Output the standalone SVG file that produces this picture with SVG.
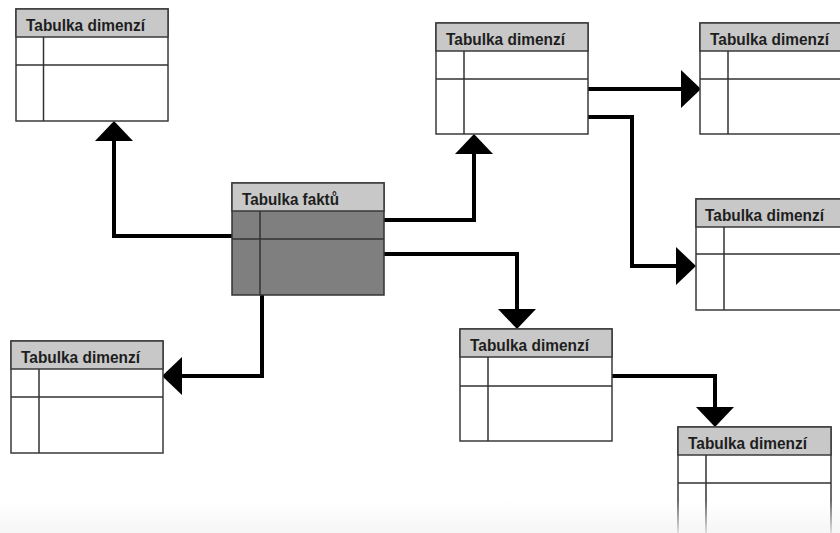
<svg xmlns="http://www.w3.org/2000/svg" width="840" height="533" viewBox="0 0 840 533">
<style>
.box{fill:#ffffff;stroke:#3a3a3a;stroke-width:1.5}
.hdr{fill:#c8c8c8;stroke:#3a3a3a;stroke-width:1.5}
.fact{fill:#7f7f7f;stroke:#333333;stroke-width:1.5}
.ln{stroke:#333333;stroke-width:1.5;fill:none}
.lbl{font-family:"Liberation Sans",Arial,sans-serif;font-size:16.5px;font-weight:bold;fill:#1e1e1e}
.con{fill:none;stroke:#000000;stroke-width:4;stroke-linejoin:miter}
</style>
<defs>
<marker id="arr" markerUnits="userSpaceOnUse" viewBox="0 0 20 38" refX="0" refY="19" markerWidth="20" markerHeight="38" orient="auto">
<path d="M0,0 L20,19 L0,38 Z" fill="#000000"/>
</marker>
<linearGradient id="fade" x1="0" y1="0" x2="0" y2="1">
<stop offset="0" stop-color="#f4f4f4" stop-opacity="0"/>
<stop offset="1" stop-color="#f4f4f4" stop-opacity="0.85"/>
</linearGradient>
</defs>
<rect width="840" height="533" fill="#ffffff"/>

<g id="connectors">
<path class="con" d="M232,236 H114 V141" marker-end="url(#arr)"/>
<path class="con" d="M384,220 H474 V154" marker-end="url(#arr)"/>
<path class="con" d="M384,254 H517 V309" marker-end="url(#arr)"/>
<path class="con" d="M262,295 V376 H182" marker-end="url(#arr)"/>
<path class="con" d="M588,89 H681" marker-end="url(#arr)"/>
<path class="con" d="M588,117 H632 V266 H676" marker-end="url(#arr)"/>
<path class="con" d="M612,376 H715 V407" marker-end="url(#arr)"/>
</g>

<g id="dim-top-left">
<rect class="box" x="16" y="9" width="152" height="112"/>
<rect class="hdr" x="16" y="9" width="152" height="28"/>
<path class="ln" d="M16,65 H168 M43.5,37 V121"/>
<text class="lbl" x="26" y="31" textLength="119" lengthAdjust="spacingAndGlyphs">Tabulka dimenzí</text>
</g>

<g id="fact">
<rect class="fact" x="232" y="183" width="152" height="112"/>
<rect class="hdr" x="232" y="183" width="152" height="28"/>
<path class="ln" d="M232,239 H384 M260,211 V295"/>
<text class="lbl" x="242" y="205" textLength="97" lengthAdjust="spacingAndGlyphs">Tabulka faktů</text>
</g>

<g id="dim-top-mid">
<rect class="box" x="436" y="23" width="152" height="111"/>
<rect class="hdr" x="436" y="23" width="152" height="28"/>
<path class="ln" d="M436,79 H588 M464,51 V134"/>
<text class="lbl" x="446" y="45" textLength="119" lengthAdjust="spacingAndGlyphs">Tabulka dimenzí</text>
</g>

<g id="dim-top-right">
<rect class="box" x="700" y="23" width="152" height="111"/>
<rect class="hdr" x="700" y="23" width="152" height="28"/>
<path class="ln" d="M700,79 H852 M728,51 V134"/>
<text class="lbl" x="710" y="45" textLength="119" lengthAdjust="spacingAndGlyphs">Tabulka dimenzí</text>
</g>

<g id="dim-mid-right">
<rect class="box" x="696" y="199" width="152" height="111"/>
<rect class="hdr" x="696" y="199" width="152" height="28"/>
<path class="ln" d="M696,254 H848 M724,227 V310"/>
<text class="lbl" x="705" y="221" textLength="119" lengthAdjust="spacingAndGlyphs">Tabulka dimenzí</text>
</g>

<g id="dim-bottom-left">
<rect class="box" x="11" y="341" width="152" height="112"/>
<rect class="hdr" x="11" y="341" width="152" height="28"/>
<path class="ln" d="M11,397 H163 M39,369 V453"/>
<text class="lbl" x="21" y="363" textLength="119" lengthAdjust="spacingAndGlyphs">Tabulka dimenzí</text>
</g>

<g id="dim-bottom-mid">
<rect class="box" x="460" y="329" width="152" height="112"/>
<rect class="hdr" x="460" y="329" width="152" height="28"/>
<path class="ln" d="M460,386 H612 M488,357 V441"/>
<text class="lbl" x="470" y="351" textLength="119" lengthAdjust="spacingAndGlyphs">Tabulka dimenzí</text>
</g>

<g id="dim-bottom-right">
<rect class="box" x="678" y="427" width="153" height="120"/>
<rect class="hdr" x="678" y="427" width="153" height="28"/>
<path class="ln" d="M678,483 H831 M706,455 V547"/>
<text class="lbl" x="688" y="449" textLength="119" lengthAdjust="spacingAndGlyphs">Tabulka dimenzí</text>
</g>

<rect x="0" y="500" width="840" height="33" fill="url(#fade)"/>
</svg>
